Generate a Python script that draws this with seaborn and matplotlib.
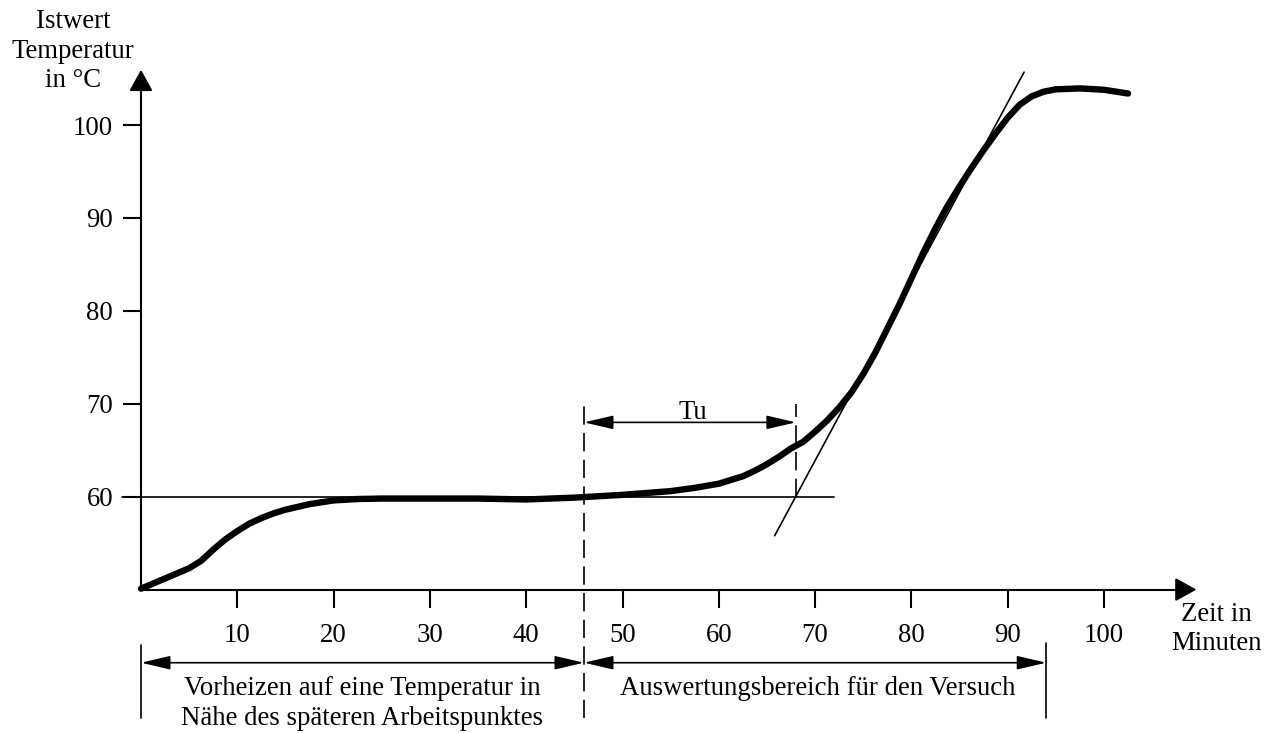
import matplotlib
matplotlib.use("Agg")
import matplotlib.pyplot as plt
import seaborn as sns
import pandas as pd

# ---- data ----
time_min = [0, 2.5, 5, 6.25, 7.5, 8.75, 10, 11.25, 12.5, 13.75, 15, 17.5, 20, 22.5, 25, 30,
            35, 40, 45, 50, 55, 57.5, 60, 62.5, 63.75, 65, 66.25, 67.5, 68.75, 70, 71.25,
            72.5, 73.75, 75, 76.25, 77.5, 78.75, 80, 81.25, 82.5, 83.75, 85, 86.25, 87.5,
            88.75, 90, 91.25, 92.5, 93.75, 95, 97.5, 100, 102.5]
temp_c = [50.1, 51.2, 52.3, 53.1, 54.3, 55.4, 56.3, 57.1, 57.7, 58.2, 58.6, 59.2, 59.6, 59.75,
          59.8, 59.8, 59.8, 59.7, 59.9, 60.2, 60.6, 60.95, 61.4, 62.2, 62.8, 63.5, 64.3, 65.2,
          65.9, 67.0, 68.2, 69.6, 71.2, 73.2, 75.5, 78.1, 80.7, 83.5, 86.3, 88.9, 91.3, 93.4,
          95.4, 97.3, 99.1, 100.8, 102.2, 103.1, 103.6, 103.85, 103.95, 103.8, 103.4]
tangent_x = [65.8, 91.7]
tangent_y = [55.8, 105.7]
x_ticks = [10, 20, 30, 40, 50, 60, 70, 80, 90, 100]
y_ticks = [60, 70, 80, 90, 100]
ref_level = 60
tu_start, tu_end = 46, 68
range_end = 94

df = pd.DataFrame({"Zeit": time_min, "Temperatur": temp_c})

sns.set_theme(style="white")
plt.rcParams["font.family"] = ["Liberation Serif", "DejaVu Serif"]
plt.rcParams["text.color"] = "black"
FS = 19.3

W, H = 1267, 733
fig = plt.figure(figsize=(W / 100, H / 100), dpi=100)
ax = fig.add_axes([0, 0, 1, 1])
ax.set_facecolor("white")

# pixel mapping: x0 = 141 px, 9.63 px/min; y=60 at 496.7 px, 9.29 px/deg
PXX, X0 = 9.63, 141
PXY, Y60 = 9.29, 496.7
ax.set_xlim(-X0 / PXX, (W - X0) / PXX)
ax.set_ylim(60 - (H - Y60) / PXY, 60 + Y60 / PXY)

# axes as spines
for s in ["top", "right"]:
    ax.spines[s].set_visible(False)
ax.spines["left"].set_position(("data", 0))
ax.spines["bottom"].set_position(("data", 50))
ax.spines["left"].set_bounds(50, 104.3)
ax.spines["bottom"].set_bounds(0, 107.8)
for s in ["left", "bottom"]:
    ax.spines[s].set_color("black")
    ax.spines[s].set_linewidth(1.5)

ax.set_xticks(x_ticks)
ax.set_yticks(y_ticks)
ax.tick_params(axis="x", direction="out", length=13, width=1.5, pad=11,
               labelsize=FS, colors="black", bottom=True)
ax.tick_params(axis="y", direction="out", length=13, width=1.5, pad=7,
               labelsize=FS, colors="black", left=True)
ax.grid(False)

# axis arrow heads
ax.annotate("", xy=(0, 105.95), xytext=(0, 104.0),
            arrowprops=dict(arrowstyle="-|>,head_length=0.65,head_width=0.36",
                            color="black", lw=1.5, mutation_scale=20, shrinkA=0, shrinkB=0))
ax.annotate("", xy=(109.6, 50), xytext=(107.6, 50),
            arrowprops=dict(arrowstyle="-|>,head_length=0.65,head_width=0.36",
                            color="black", lw=1.5, mutation_scale=20, shrinkA=0, shrinkB=0))

# reference level line and tangent
ax.plot([-2.0, 72], [ref_level, ref_level], color="black", lw=1.2)
ax.plot(tangent_x, tangent_y, color="black", lw=1.2)

# dashed markers
ax.plot([tu_start, tu_start], [36.2, 70], color="black", lw=1.2, dashes=(11, 5))
ax.plot([tu_end, tu_end], [60, 70], color="black", lw=1.2, dashes=(11, 5))

# main curve
sns.lineplot(data=df, x="Zeit", y="Temperatur", ax=ax, color="black", lw=4.6,
             sort=False, estimator=None, solid_joinstyle="round")
ax.set_xlabel("")
ax.set_ylabel("")

arrow_kw = dict(arrowstyle="<|-|>,head_length=1.2,head_width=0.28", color="black",
                lw=1.2, mutation_scale=15, shrinkA=0, shrinkB=0)
# Tu arrow
ax.annotate("", xy=(tu_start, 68), xytext=(tu_end, 68), arrowprops=arrow_kw)
ax.text((tu_start + tu_end) / 2 + 0.3, 69.1, "Tu", fontsize=FS, ha="center", va="center",
        color="black")

# bottom brackets
yb = 42.13
ax.annotate("", xy=(0, yb), xytext=(tu_start, yb), arrowprops=arrow_kw)
ax.annotate("", xy=(tu_start, yb), xytext=(range_end, yb), arrowprops=arrow_kw)
ax.plot([0, 0], [36.2, 44.0], color="black", lw=1.2)
ax.plot([range_end, range_end], [36.2, 44.3], color="black", lw=1.2)

ax.text(tu_start / 2, 37.75, "Vorheizen auf eine Temperatur in\nNähe des späteren Arbeitspunktes",
        fontsize=FS, ha="center", va="center", multialignment="center", linespacing=1.24,
        color="black")
ax.text((tu_start + range_end) / 2 + 0.3, 39.35, "Auswertungsbereich für den Versuch",
        fontsize=FS, ha="center", va="center", color="black")

# axis titles
ax.text(-7.06, 107.95, "Istwert\nTemperatur\nin °C", fontsize=FS, ha="center", va="center",
        multialignment="center", linespacing=1.24, color="black")
ax.text(111.7, 45.75, "Zeit in\nMinuten", fontsize=FS, ha="center", va="center",
        multialignment="center", linespacing=1.18, color="black")

fig.savefig("out.png", dpi=100, facecolor="white")
